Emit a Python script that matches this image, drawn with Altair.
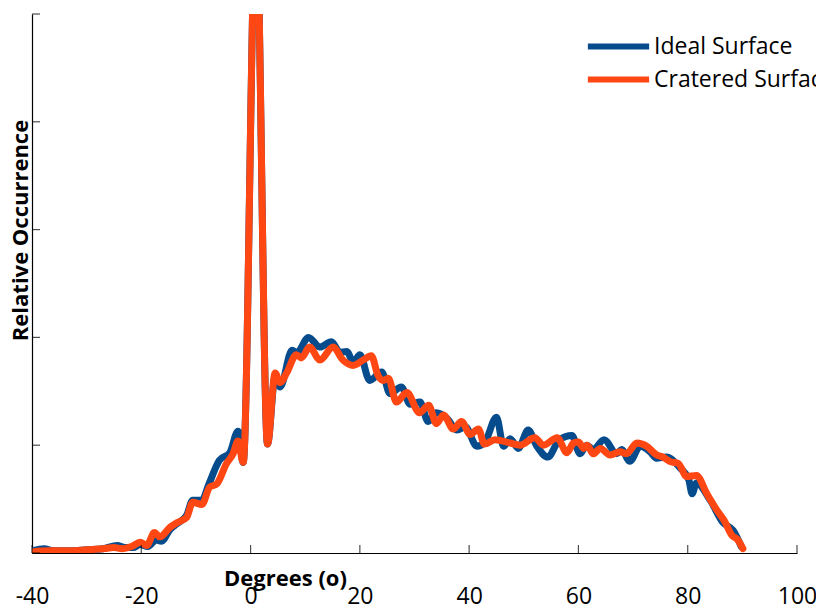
import altair as alt
import pandas as pd

series_names = ["Ideal Surface", "Cratered Surface"]
series_colors = ["#064b8c", "#ff4713"]

ideal_deg = [-40, -37.8, -36, -33, -30, -27, -24.4, -23, -21.5, -20.2, -18.8, -17.3, -16.3,
             -14.7, -13.5, -11.7, -10.6, -8.9, -7.7, -5.7, -3.8, -2.3, -1.35, 1.0, 3.1,
             4.5, 5.4, 7.6, 8.5, 10.6, 12.7, 14.8, 16.4, 17.6, 18.8, 20.0, 21.8, 24.0,
             25.5, 27.6, 29.2, 31.0, 32.5, 34.0, 35.9, 37.8, 39.3, 41.4, 42.9, 45.0,
             46.3, 47.5, 49.0, 50.8, 52.4, 54.4, 56.5, 58.8, 60.3, 61.5, 62.7, 64.7,
             67.0, 67.9, 69.4, 71.3, 73.1, 74.3, 76.1, 78.6, 80.2, 80.8, 81.6, 84.1,
             86.5, 88.3, 89.8]
ideal_val = [0.02, 0.04, 0.02, 0.02, 0.03, 0.04, 0.07, 0.05, 0.05, 0.08, 0.06, 0.12, 0.11,
             0.22, 0.27, 0.35, 0.49, 0.49, 0.63, 0.86, 0.93, 1.13, 0.84, 5.92, 1.01,
             1.64, 1.54, 1.88, 1.86, 2.00, 1.91, 1.96, 1.86, 1.87, 1.77, 1.84, 1.60, 1.68,
             1.48, 1.54, 1.38, 1.40, 1.22, 1.30, 1.25, 1.14, 1.17, 0.99, 1.03, 1.26,
             0.99, 1.06, 0.97, 1.14, 0.99, 0.89, 1.05, 1.09, 0.92, 1.00, 0.96, 1.05,
             0.92, 0.96, 0.85, 0.99, 0.94, 0.88, 0.89, 0.79, 0.68, 0.55, 0.65, 0.49,
             0.28, 0.21, 0.06]

crat_deg = [-40, -37, -33, -30, -27, -25, -23.5, -21.8, -20.2, -19, -17.6, -16.6, -14.7,
            -13.5, -11.7, -10.6, -8.9, -7.5, -6.2, -4.4, -3.2, -2.3, -1.35, 1.0, 3.1,
            4.5, 5.4, 6.6, 8.4, 9.3, 10.8, 12.7, 15.1, 16.9, 18.8, 20.6, 22.1, 23.3,
            24.3, 25.2, 26.7, 28.6, 30.9, 32.6, 34.0, 35.3, 37.1, 38.6, 40.2, 41.7,
            42.8, 44.7, 47.5, 49.3, 52.0, 53.6, 56.1, 57.9, 59.1, 60.0, 61.0, 61.6,
            62.7, 64.0, 65.8, 67.6, 68.8, 70.7, 72.5, 74.3, 75.5, 76.7, 78.3, 79.8,
            81.6, 83.5, 85.3, 86.8, 88.0, 89.2, 90.1]
crat_val = [0.01, 0.02, 0.02, 0.03, 0.04, 0.05, 0.04, 0.06, 0.10, 0.07, 0.19, 0.15, 0.24,
            0.28, 0.33, 0.47, 0.45, 0.61, 0.64, 0.83, 0.92, 1.04, 0.84, 5.92, 1.01,
            1.67, 1.58, 1.67, 1.84, 1.81, 1.91, 1.79, 1.91, 1.79, 1.74, 1.79, 1.83, 1.65,
            1.60, 1.62, 1.40, 1.49, 1.30, 1.37, 1.20, 1.28, 1.15, 1.22, 1.10, 1.15,
            1.01, 1.05, 1.02, 1.00, 1.07, 1.00, 1.07, 0.93, 1.02, 1.03, 0.97, 1.00,
            0.92, 0.97, 0.91, 0.94, 0.92, 1.02, 0.99, 0.91, 0.89, 0.85, 0.83, 0.71,
            0.72, 0.55, 0.40, 0.29, 0.17, 0.12, 0.04]

x_ticks = [-40, -20, 0, 20, 40, 60, 80, 100]
y_ticks = [0, 1, 2, 3, 4, 5]

FONT = "Open Sans"

ideal_df = pd.DataFrame({"deg": ideal_deg, "val": ideal_val, "series": series_names[0]})
crat_df = pd.DataFrame({"deg": crat_deg, "val": crat_val, "series": series_names[1]})

xscale = alt.Scale(domain=[-40, 100], nice=False, zero=False)
yscale = alt.Scale(domain=[0, 5], nice=False)
cscale = alt.Scale(domain=series_names, range=series_colors)

x_axis = alt.Axis(values=x_ticks, ticks=False, tickSize=0, grid=False, labelFont=FONT,
                  labelFontSize=23, labelColor="black", labelPadding=32, labelFlush=False,
                  labelExpr="'' + datum.value",
                  domainColor="black", domainWidth=1.2, title="Degrees (o)", titleFont=FONT,
                  titleFontSize=22, titleFontWeight="bold", titleColor="black",
                  titleX=253, titleY=32, titleAlign="center", titleBaseline="alphabetic")
y_axis = alt.Axis(values=y_ticks, ticks=False, tickSize=0, labels=False, grid=False,
                  domainColor="black", domainWidth=1.2, title="Relative Occurrence",
                  titleFont=FONT, titleFontSize=22, titleFontWeight="bold", titleColor="black",
                  titleX=-12, titleY=216, titleAlign="center", titleBaseline="middle",
                  titleAngle=270)

legend = alt.Legend(orient="none", legendX=575, legendY=21, title=None,
                    symbolType="M-4.3,0H4.3", symbolSize=203, symbolStrokeWidth=6,
                    labelFont=FONT, labelFontSize=23, labelColor="black", labelOffset=24,
                    rowPadding=8, padding=0, labelLimit=400)

ideal = alt.Chart(ideal_df).mark_line(strokeWidth=7, interpolate="monotone", clip=True,
                                      strokeCap="round", strokeJoin="round").encode(
    x=alt.X("deg:Q", scale=xscale, axis=x_axis),
    y=alt.Y("val:Q", scale=yscale, axis=y_axis),
    color=alt.Color("series:N", scale=cscale, legend=legend),
)
crat = alt.Chart(crat_df).mark_line(strokeWidth=7, interpolate="monotone", clip=True,
                                    strokeCap="round", strokeJoin="round").encode(
    x=alt.X("deg:Q", scale=xscale),
    y=alt.Y("val:Q", scale=yscale),
    color=alt.Color("series:N", scale=cscale, legend=legend),
)

xt = alt.Chart(pd.DataFrame({"t": x_ticks})).mark_tick(
    orient="vertical", size=8, thickness=1.2, yOffset=-4, color="black").encode(
    x=alt.X("t:Q", scale=xscale), y=alt.datum(0))
yt = alt.Chart(pd.DataFrame({"t": y_ticks})).mark_tick(
    orient="horizontal", size=8, thickness=1.2, xOffset=4, color="black").encode(
    y=alt.Y("t:Q", scale=yscale), x=alt.datum(-40))

chart = alt.layer(ideal, crat, xt, yt).properties(
    width=765, height=539,
    autosize=alt.AutoSizeParams(type="none"),
    padding={"left": 24, "top": 6, "right": 19, "bottom": 58},
    background="white",
).configure_view(stroke=None)

chart.save("out.html", embed_options={"renderer": "svg", "actions": False})
